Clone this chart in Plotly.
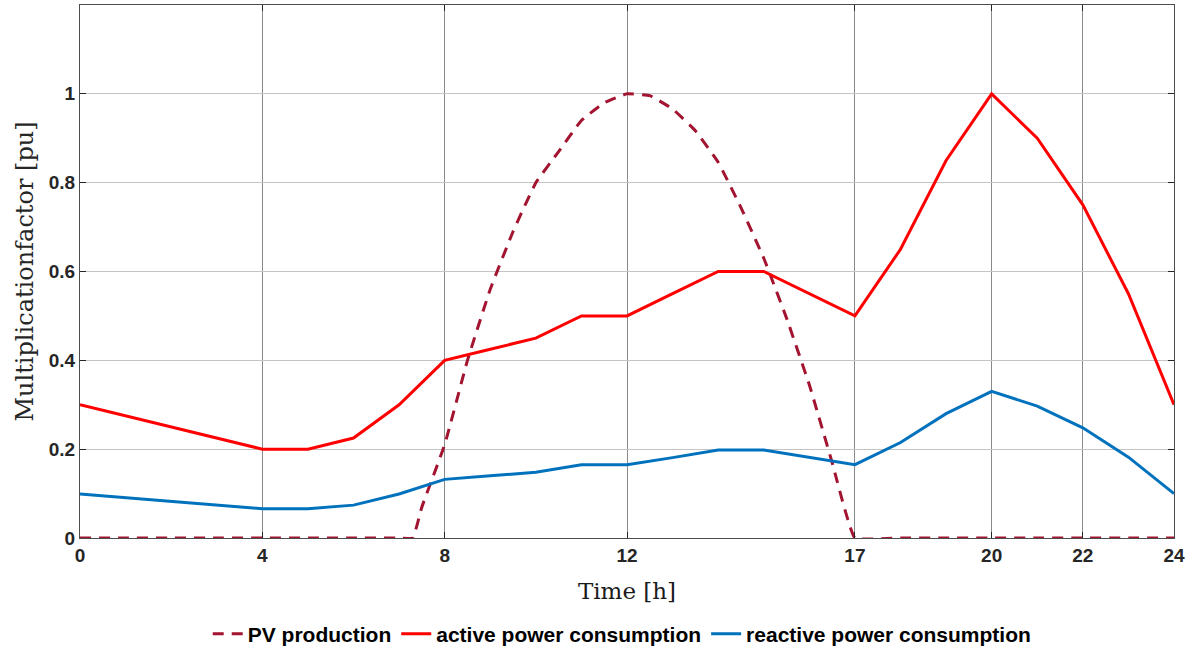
import plotly.graph_objects as go

hours = list(range(25))
active = [0.3, 0.275, 0.25, 0.225, 0.2, 0.2, 0.225, 0.3, 0.4, 0.425, 0.45, 0.5, 0.5,
          0.55, 0.6, 0.6, 0.55, 0.5, 0.65, 0.85, 1.0, 0.9, 0.75, 0.55, 0.3]
reactive = [0.099, 0.091, 0.083, 0.074, 0.066, 0.066, 0.074, 0.099, 0.132, 0.140, 0.148, 0.165, 0.165,
            0.181, 0.198, 0.198, 0.181, 0.165, 0.215, 0.280, 0.330, 0.297, 0.248, 0.182, 0.100]

pv_t = [0, 1, 2, 3, 4, 5, 6, 7, 7.3, 7.5, 8, 8.5, 9, 9.5, 10, 10.5, 11, 11.5, 12, 12.5,
        13, 13.5, 14, 14.5, 15, 15.5, 16, 16.5, 17, 18, 19, 20, 21, 22, 23, 24]
pv = [0, 0, 0, 0, 0, 0, 0, 0, 0, 0.07, 0.21, 0.40, 0.56, 0.69, 0.80, 0.87, 0.94, 0.98, 1.0, 0.996,
      0.966, 0.917, 0.846, 0.744, 0.63, 0.495, 0.345, 0.17, 0, 0, 0, 0, 0, 0, 0, 0]

x_ticks = [0, 4, 8, 12, 17, 20, 22, 24]
x_tick_text = ["0", "4", "8", "12", "17", "20", "22", "24"]
y_ticks = [0, 0.2, 0.4, 0.6, 0.8, 1]
y_tick_text = ["0", "0.2", "0.4", "0.6", "0.8", "1"]
series_names = ["PV production", "active power consumption", "reactive power consumption"]

fig = go.Figure()
fig.add_trace(go.Scatter(x=pv_t, y=pv, mode="lines", name="<b>%s</b>" % series_names[0],
                         line=dict(color="#A2142F", width=3, dash="11px,8px", shape="spline", smoothing=0.3)))
fig.add_trace(go.Scatter(x=hours, y=active, mode="lines", name="<b>%s</b>" % series_names[1],
                         line=dict(color="#FF0000", width=3)))
fig.add_trace(go.Scatter(x=hours, y=reactive, mode="lines", name="<b>%s</b>" % series_names[2],
                         line=dict(color="#0072BD", width=3)))

axis_common = dict(showline=True, linecolor="#4d4d4d", linewidth=1, mirror="ticks",
                   ticks="inside", ticklen=6, tickcolor="#262626", zeroline=False, automargin=False,
                   tickfont=dict(family="Liberation Sans, Arial", size=19, color="#262626"))

fig.update_xaxes(range=[0, 24], tickvals=x_ticks, ticktext=["<b>%s</b>" % t for t in x_tick_text],
                 showgrid=True, gridcolor="#8a8a8a", gridwidth=1,
                 title=dict(text="Time [h]", font=dict(family="DejaVu Serif, Liberation Serif", size=23, color="#1a1a1a"),
                            standoff=18),
                 **axis_common)
fig.update_yaxes(range=[0, 1.2], tickvals=y_ticks, ticktext=["<b>%s</b>" % t for t in y_tick_text],
                 showgrid=True, gridcolor="#c4c4c4", gridwidth=1,
                 title=dict(text="Multiplicationfactor [pu]", font=dict(family="DejaVu Serif, Liberation Serif", size=24, color="#262626"),
                            standoff=8),
                 **axis_common)

fig.update_layout(
    width=1192, height=651,
    margin=dict(l=80, r=18, t=5, b=113, autoexpand=False),
    plot_bgcolor="white", paper_bgcolor="white",
    legend=dict(orientation="h", x=0.522, xanchor="center", xref="container",
                y=0.026, yanchor="middle", yref="container",
                font=dict(family="Liberation Sans, Arial", size=21, color="black"),
                itemwidth=30, tracegroupgap=0),
    showlegend=True,
)

fig.write_html("out.html")
